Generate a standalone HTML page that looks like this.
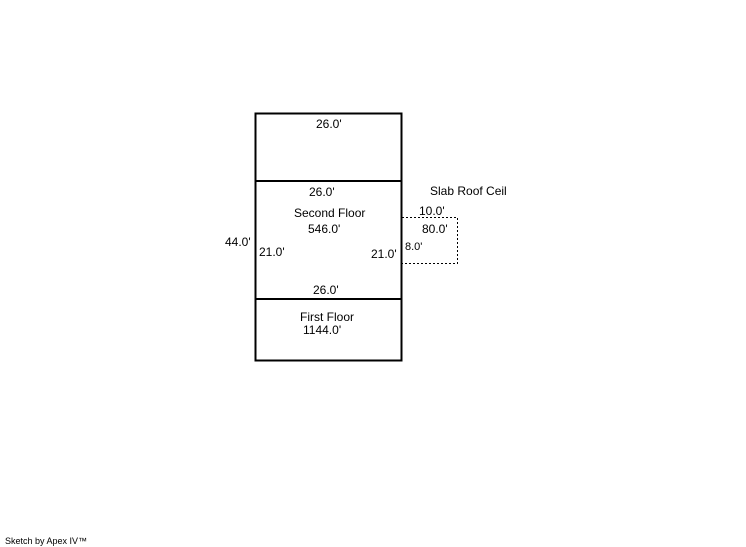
<!DOCTYPE html>
<html><head><meta charset="utf-8"><style>
html,body{margin:0;padding:0;background:#fff;}
svg{display:block;}
text{font-family:"Liberation Sans",Arial,sans-serif;font-size:12px;fill:#000;}
</style></head><body>
<svg width="746" height="547" viewBox="0 0 746 547" xmlns="http://www.w3.org/2000/svg">
<rect x="255.5" y="113.5" width="146" height="247" fill="none" stroke="#000" stroke-width="2"/>
<line x1="255" y1="181" x2="402" y2="181" stroke="#000" stroke-width="2"/>
<line x1="255" y1="299" x2="402" y2="299" stroke="#000" stroke-width="2"/>
<path d="M402 217.5 H457.5 V263.5 H402" fill="none" stroke="#000" stroke-width="1" stroke-dasharray="2,2"/>
<text x="316" y="128">26.0'</text>
<text x="309" y="196">26.0'</text>
<text x="430" y="195">Slab Roof Ceil</text>
<text x="294" y="217">Second Floor</text>
<text x="419" y="215">10.0'</text>
<text x="308" y="233">546.0'</text>
<text x="422" y="233">80.0'</text>
<text x="225" y="246">44.0'</text>
<text x="259" y="256">21.0'</text>
<text x="405" y="250" style="font-size:11px">8.0'</text>
<text x="371" y="258">21.0'</text>
<text x="313" y="294">26.0'</text>
<text x="300" y="321">First Floor</text>
<text x="303" y="334">1144.0'</text>
<text x="5" y="544" style="font-size:9px">Sketch by Apex IV™</text>
</svg>
</body></html>
